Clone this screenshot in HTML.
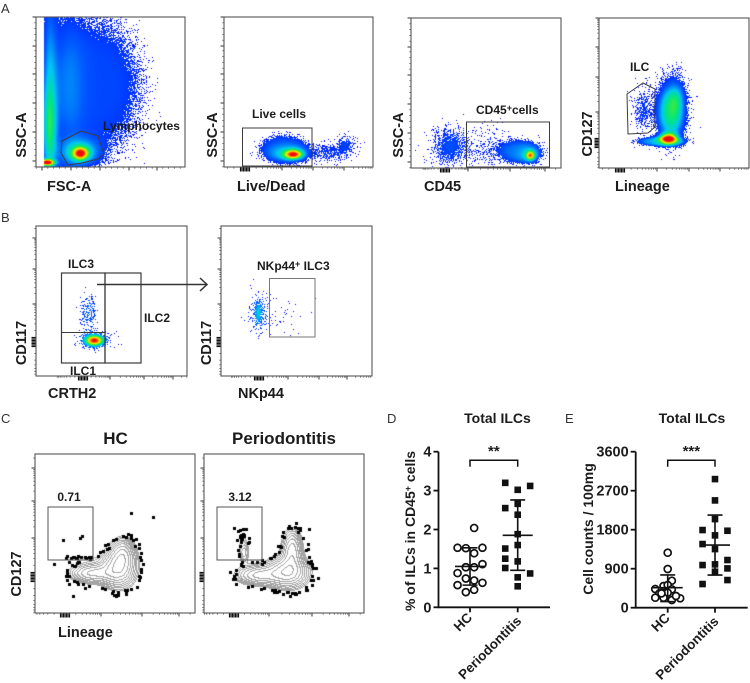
<!DOCTYPE html>
<html lang="en">
<head>
<meta charset="utf-8">
<title>Flow cytometry ILC figure</title>
<style>
html,body{margin:0;padding:0;background:#fff;}
#figure{position:relative;width:750px;height:683px;overflow:hidden;background:#fff;}
canvas{position:absolute;display:block;}
#overlay{position:absolute;left:0;top:0;}
text{font-family:"Liberation Sans",sans-serif;fill:#1c1c1c;}
.lab{font-weight:bold;font-size:14.5px;}
.in{font-weight:bold;font-size:12px;}
.panel{font-size:13px;fill:#333;}
</style>
</head>
<body>
<div id="figure">
<svg id="overlay" width="750" height="683" viewBox="0 0 750 683">
  <g id="ticks"></g>
  <g id="frames"></g>

  <g fill="none" stroke="#3c3c3c" stroke-width="1">
    <path d="M61 153L62 141L81 131L98 136L104 154L98 159L82 163L68 165Z"/>
    <rect x="242.500" y="128" width="69.500" height="38"/>
    <rect x="466.500" y="122" width="83" height="45"/>
    <path d="M627 94L643 83L655 89L655 127L648 133L628 134Z"/>
    <rect x="61.500" y="273" width="43.500" height="90" stroke-width="1.200"/>
    <rect x="105" y="273" width="36" height="90" stroke-width="1.200"/>
    <path d="M61.500 332.500H105"/>
    <rect x="269.500" y="278.500" width="45.500" height="58.500" stroke="#777"/>
    <rect x="48" y="507" width="45" height="53" stroke="#555"/>
    <rect x="217" y="507" width="45" height="53" stroke="#555"/>
  </g>
  <g fill="none" stroke="#333" stroke-width="1.500">
    <path d="M97 284.500H207"/><path d="M200 278L207 284.500L200 291"/>
  </g>

  <text class="panel" x="1" y="13">A</text>
  <text class="panel" x="1" y="222">B</text>
  <text class="panel" x="1" y="423">C</text>
  <text class="panel" x="387" y="423">D</text>
  <text class="panel" x="565" y="423">E</text>

  <text class="lab" x="47" y="191">FSC-A</text>
  <text class="lab" x="237" y="191">Live/Dead</text>
  <text class="lab" x="424" y="191">CD45</text>
  <text class="lab" x="615" y="191">Lineage</text>
  <text class="lab" transform="translate(26 135) rotate(-90)" text-anchor="middle">SSC-A</text>
  <text class="lab" transform="translate(217 135) rotate(-90)" text-anchor="middle">SSC-A</text>
  <text class="lab" transform="translate(403 135) rotate(-90)" text-anchor="middle">SSC-A</text>
  <text class="lab" transform="translate(592 134) rotate(-90)" text-anchor="middle">CD127</text>

  <text class="in" x="103" y="130">Lymphocytes</text>
  <text class="in" x="252" y="118">Live cells</text>
  <text class="in" x="476" y="114">CD45<tspan dy="-3" font-size="9">+</tspan><tspan dy="3">cells</tspan></text>
  <text class="in" x="630" y="71">ILC</text>

  <text class="lab" transform="translate(26 343) rotate(-90)" text-anchor="middle">CD117</text>
  <text class="lab" transform="translate(211 343) rotate(-90)" text-anchor="middle">CD117</text>
  <text class="lab" x="48" y="398">CRTH2</text>
  <text class="lab" x="238" y="398">NKp44</text>
  <text class="in" x="68" y="268">ILC3</text>
  <text class="in" x="144" y="322">ILC2</text>
  <text class="in" x="70" y="375">ILC1</text>
  <text class="in" x="257" y="270">NKp44<tspan dy="-3" font-size="9">+</tspan><tspan dy="3"> ILC3</tspan></text>

  <text x="115.500" y="444" text-anchor="middle" font-weight="bold" font-size="17">HC</text>
  <text x="284" y="444" text-anchor="middle" font-weight="bold" font-size="17">Periodontitis</text>
  <text class="lab" transform="translate(21 574) rotate(-90)" text-anchor="middle">CD127</text>
  <text class="lab" x="58" y="637">Lineage</text>
  <text class="in" x="69" y="501" text-anchor="middle">0.71</text>
  <text class="in" x="240" y="501" text-anchor="middle">3.12</text>

  <text x="497.500" y="423" text-anchor="middle" font-weight="bold" font-size="14">Total ILCs</text>
  <text x="692" y="423" text-anchor="middle" font-weight="bold" font-size="14">Total ILCs</text>
  <text transform="translate(415 531) rotate(-90)" text-anchor="middle" font-weight="bold" font-size="14">% of ILCs in CD45<tspan dy="-4" font-size="9">+</tspan><tspan dy="4"> cells</tspan></text>
  <text transform="translate(593 529) rotate(-90)" text-anchor="middle" font-weight="bold" font-size="14">Cell counts / 100mg</text>
  <g id="chartD"></g>
  <g id="chartE"></g>
</svg>
</div>
<script>
/* ---------- scatter chart data ---------- */
const groups = ['HC', 'Periodontitis'];
const pctTicks = [0, 1, 2, 3, 4];
const countTicks = [0, 900, 1800, 2700, 3600];

const hcPct =      [2.04, 1.53, 1.52, 1.53, 1.39, 1.03, 1.03, 1.11, 0.88, 0.74, 0.69, 0.63, 0.57, 0.39, 0.45, 1.03];
const hcPctSlot =  [0.5, -1.5, -0.5, 1.5, 0.5, -0.5, 0.5, 1.5, -1.5, -0.5, 0.5, 1.5, -1.5, -0.5, 0.5, -0.5];
const perioPct =     [3.2, 3.02, 3.12, 2.66, 2.55, 2.38, 1.88, 1.6, 1.51, 1.25, 1.18, 1.01, 0.87, 0.77, 0.54];
const perioPctSlot = [-1.5, 0, 1.5, 0, -1.5, 0, 0, 0, -1.5, -1.5, 0, -1.5, 1.5, 0, 0];
const pctMean = [1.05, 1.85];
const pctUpper = [1.53, 2.76];
const pctLower = [0.57, 0.95];

const hcCount =      [1269, 893, 623, 501, 524, 431, 424, 346, 332, 231, 231, 178, 217, 270, 330];
const hcCountSlot =  [0, 0, 0.5, -0.5, 0, -1.5, 0.5, 0, -1, -1.5, -0.5, 0.5, 1.5, 1, -0.75];
const perioCount =     [2968, 2476, 2045, 1792, 1776, 1669, 1469, 1353, 984, 1100, 907, 1000, 830, 638, 546];
const perioCountSlot = [0, 0, 0, -1.5, 1.5, 0, -1.5, 0, -1.5, 1.5, 1.5, 0, 0, 1.5, -1.5];
const countMean = [461, 1446];
const countUpper = [755, 2138];
const countLower = [140, 754];

/* ---------- flow populations, in display channels (x right, y up):
   [centre x, centre y, spread x, spread y, density, flatness] ---------- */
const fscPops = [[13,35,5,30,.3],[13,90,5,60,.22],[30,80,12,90,.12],[62,82,38,58,.14,2],[44,14,5,4,.72],[44,15,13,9,.34],[10,5,5,2,.95]];
const livePops = [[69,13,6,3,.75],[59,19,20,12,.16,2],[64,14,14,6,.2],[106,15,14,6,.1],[121,24,6,6,.11]];
const cd45Pops = [[38,22,12,13,.15],[79,20,18,14,.065],[108,17,18,10,.17,2],[118,14,9,7,.16],[119,13,3,3,.62]];
const linPops = [[69,30,6,3.5,.82],[72,58,9,20,.36],[62,27,20,4,.28,2],[71,55,11,20,.13,2],[78,72,5,10,.12],[43,63,6,13,.07],[44,50,8,14,.045]];
const crthPops = [[52,64,6,13,.2],[58,36,6,3.5,.85],[56,36,11,6,.16],[74,36,10,6,.02]];
const nkpPops = [[37,63,6,14,.2],[37,64,2,7,.14],[64,61,16,15,.035]];
const hcPops = [[57,40,13,6,.5],[83,45,10,11,.8],[88,60,7,9,.5],[45,55,12,3,.08]];
const perioPops = [[54,38,13,6,.5],[83,41,12,9,.8],[88,63,6,12,.55],[40,60,3,6,.2],[39,73,5,13,.085]];
const hcEvents = [[118,96],[96,100],[28,73],[45,75],[47,77],[19,49],[38,17]];
const perioEvents = [[92,90],[30,85],[105,84]];

/* ---------- axis ticks for flow plots, in display channels ---------- */
const linTicksA = [6,35,64,93,121,150];
const xLogLive = [21,58,89,120];
const xLogCd45 = [34,57,99,134];
const xLogLin = [21,58,90,121];
const yLogLin = [25,56,91,121,150];
const xLogCrth = [47,74,108,137];
const yLogB = [34,72,107,138];
const xLogNkp = [38,67,98,126];
const yLogC = [36,75,112,145];
const xLogHc = [30,66,107,144];
const xLogPerio = [30,65,108,145];

const NS = 'http://www.w3.org/2000/svg';
function svgEl(tag, attrs, parent){
  const el = document.createElementNS(NS, tag);
  for (const k in attrs) el.setAttribute(k, attrs[k]);
  parent.appendChild(el);
  return el;
}

/* ---------- flow density rendering ---------- */
const stops = [[0,0,0,255],[.18,0,90,255],[.32,0,200,240],[.45,0,230,130],[.58,90,235,30],[.72,250,240,0],[.86,255,130,0],[1,240,10,10]];
function jet(t){
  t = Math.min(1, t);
  for (let i = 1; i < stops.length; i++){
    if (t <= stops[i][0]){
      const a = stops[i-1], b = stops[i], f = (t-a[0])/(b[0]-a[0]);
      return [a[1]+(b[1]-a[1])*f, a[2]+(b[2]-a[2])*f, a[3]+(b[3]-a[3])*f];
    }
  }
  return stops[stops.length-1].slice(1);
}
function dither(x, y){
  const s = Math.sin(x*12.9898 + y*78.233) * 43758.5453;
  return s - Math.floor(s);
}
function density(pops, x, y){
  let sum = 0;
  for (const p of pops){
    const u = (x-p[0])/p[2], v = (y-p[1])/p[3];
    sum += p[4]*Math.exp(-0.5*Math.pow(u*u+v*v, p[5]||1));
  }
  return sum;
}
function makeCanvas(box, name){
  const c = document.createElement('canvas');
  c.width = box.w; c.height = box.h;
  c.style.left = box.x + 'px'; c.style.top = box.y + 'px';
  
  
  document.getElementById('figure').insertBefore(c, document.getElementById('overlay'));
  return c;
}
function drawPseudocolor(box, pops, solid, xMin, name){
  const c = makeCanvas(box, name), g = c.getContext('2d');
  const img = g.createImageData(box.w, box.h);
  for (let py = 0; py < box.h; py++){
    for (let px = 0; px < box.w; px++){
      const cx = px, cy = box.h - py;
      const d = density(pops, cx, cy);
      const i = (py*box.w + px)*4;
      let col = [255,255,255];
      if (cx >= xMin && (d >= solid || dither(px+box.x, py+box.y) < Math.pow(d/solid, 1.6))) col = jet(d);
      img.data[i] = col[0]; img.data[i+1] = col[1]; img.data[i+2] = col[2]; img.data[i+3] = 255;
    }
  }
  g.putImageData(img, 0, 0);
}
function drawContour(box, pops, events, name){
  const c = makeCanvas(box, name), g = c.getContext('2d');
  g.fillStyle = '#fff'; g.fillRect(0, 0, box.w, box.h);
  const edge = .09, low = .02;
  const lev = d => d < edge ? -1 : Math.floor(Math.log(d/edge)*3.6);
  g.fillStyle = '#a4a4a4';
  for (let py = 0; py < box.h; py++){
    for (let px = 0; px < box.w; px++){
      const a = lev(density(pops, px, box.h-py));
      const b = lev(density(pops, px+1, box.h-py));
      const e = lev(density(pops, px, box.h-py-1));
      if (a !== b || a !== e) g.fillRect(px, py, 1, 1);
    }
  }
  g.fillStyle = '#000';
  for (let py = 0; py < box.h; py += 2){
    for (let px = 0; px < box.w; px += 2){
      const d = density(pops, px, box.h-py);
      if (d > low && d < edge && dither(px+box.x, py+box.y) < Math.pow((d-low)/(edge-low), 1.3)*.6){
        g.fillRect(Math.round(px + dither(py, px)*3 - 1.5), Math.round(py + dither(px+3, py)*3 - 1.5), 3, 3);
      }
    }
  }
  for (const ev of events) g.fillRect(Math.round(ev[0])-1, Math.round(box.h-ev[1])-1, 3, 3);
}

/* ---------- flow axes ---------- */
function tickLine(parent, x1, y1, x2, y2, w, col){
  const t = svgEl('line', {x1:x1, y1:y1, x2:x2, y2:y2, stroke:col, 'stroke-width':w}, parent);
  
  
}
function channelMarks(ticks, kind, max){
  const out = [];
  if (kind === 'lin'){
    const gap = ticks[1]-ticks[0];
    for (let i = -1; i < ticks.length; i++){
      const base = i < 0 ? ticks[0]-gap : ticks[i];
      if (i >= 0) out.push([base, 1]);
      for (let m = 1; m < 5; m++) out.push([base+gap*m/5, 0]);
    }
  } else {
    for (let s = -3; s <= 3; s++) out.push([ticks[0]+s*1.5, 2]);
    for (let i = 1; i < ticks.length; i++) out.push([ticks[i], 1]);
    for (let i = 0; i < ticks.length; i++){
      const gap = i+1 < ticks.length ? ticks[i+1]-ticks[i] : ticks[i]-ticks[i-1];
      for (let m = 2; m < 10; m++) out.push([ticks[i]+gap*Math.log10(m), 0]);
      if (i === 0) for (let m = 2; m < 10; m++) out.push([ticks[0]-gap*Math.log10(m), 0]);
    }
  }
  return out.filter(t => t[0] >= 0 && t[0] <= max);
}
const tickLen = [1.8, 3.5, 4.5];
const tickWidth = [.7, 1, 1.2];
const tickCol = ['#555', '#333', '#111'];
function drawFrame(box, xTicks, xKind, yTicks, yKind){
  const gt = document.getElementById('ticks');
  for (const t of channelMarks(xTicks, xKind, box.w)){
    const px = box.x + t[0];
    tickLine(gt, px, box.y+box.h, px, box.y+box.h+tickLen[t[1]], tickWidth[t[1]], tickCol[t[1]]);
  }
  for (const t of channelMarks(yTicks, yKind, box.h)){
    const py = box.y + box.h - t[0];
    tickLine(gt, box.x, py, box.x-tickLen[t[1]], py, tickWidth[t[1]], tickCol[t[1]]);
  }
  const f = svgEl('rect', {x:box.x, y:box.y, width:box.w, height:box.h, fill:'none', stroke:'#555', 'stroke-width':1.1}, document.getElementById('frames'));
  
  
}

const boxFsc = {x:36, y:17, w:149, h:150};
const boxLive = {x:224, y:17, w:149, h:150};
const boxCd45 = {x:411, y:18, w:150, h:150};
const boxLin = {x:599, y:18, w:150, h:150};
const boxCrth = {x:36, y:226, w:151, h:150};
const boxNkp = {x:221, y:226, w:151, h:150};
const boxHc = {x:35, y:454, w:160, h:159};
const boxPerio = {x:204, y:454, w:160, h:159};

drawPseudocolor(boxFsc, fscPops, .12, 8, 'fsc-ssc-density');
drawPseudocolor(boxLive, livePops, .12, 0, 'live-dead-density');
drawPseudocolor(boxCd45, cd45Pops, .14, 0, 'cd45-density');
drawPseudocolor(boxLin, linPops, .12, 0, 'lineage-cd127-density');
drawPseudocolor(boxCrth, crthPops, .28, 0, 'crth2-cd117-density');
drawPseudocolor(boxNkp, nkpPops, .28, 0, 'nkp44-cd117-density');
drawContour(boxHc, hcPops, hcEvents, 'hc-contour-plot');
drawContour(boxPerio, perioPops, perioEvents, 'periodontitis-contour-plot');

drawFrame(boxFsc, linTicksA, 'lin', linTicksA, 'lin');
drawFrame(boxLive, xLogLive, 'log', linTicksA, 'lin');
drawFrame(boxCd45, xLogCd45, 'log', linTicksA, 'lin');
drawFrame(boxLin, xLogLin, 'log', yLogLin, 'log');
drawFrame(boxCrth, xLogCrth, 'log', yLogB, 'log');
drawFrame(boxNkp, xLogNkp, 'log', yLogB, 'log');
drawFrame(boxHc, xLogHc, 'log', yLogC, 'log');
drawFrame(boxPerio, xLogPerio, 'log', yLogC, 'log');

/* ---------- scatter charts ---------- */
function drawScatter(root, cfg){
  const y = v => cfg.bottom - (v-cfg.min)/(cfg.max-cfg.min)*(cfg.bottom-cfg.top);
  const SLOT = 8.3;
  const ink = '#111';
  const ax = svgEl('path', {d:`M${cfg.left} ${cfg.top}V${cfg.bottom}H${cfg.right}`, fill:'none', stroke:ink, 'stroke-width':1.8}, root);
  
  
  cfg.ticks.forEach(v => {
    const t = svgEl('line', {x1:cfg.left-5, x2:cfg.left, y1:y(v), y2:y(v), stroke:ink, 'stroke-width':1.8}, root);
    
    
    const l = svgEl('text', {x:cfg.left-7, y:y(v)+5, 'text-anchor':'end', 'font-weight':'bold', 'font-size':14.5}, root);
    
    
    l.textContent = v;
  });
  cfg.centers.forEach((cx, i) => {
    const t = svgEl('line', {x1:cx, x2:cx, y1:cfg.bottom, y2:cfg.bottom+5, stroke:ink, 'stroke-width':1.8}, root);
    
    
    const ex = cx + (i ? 4.500 : 3), ey = cfg.bottom + (i ? 14.500 : 11);
    const l = svgEl('text', {transform:`translate(${ex} ${ey}) rotate(-45)`, 'text-anchor':'end', 'font-weight':'bold', 'font-size':13.5}, root);
    
    
    l.textContent = groups[i];
  });
  // open circles for the first group
  cfg.values[0].forEach((v, i) => {
    const c = svgEl('circle', {cx:cfg.centers[0]+cfg.slots[0][i]*SLOT, cy:y(v), r:3.5, fill:'#fff', stroke:ink, 'stroke-width':1.7}, root);
    
    
  });
  // filled squares for the second group
  cfg.values[1].forEach((v, i) => {
    const s = svgEl('rect', {x:cfg.centers[1]+cfg.slots[1][i]*SLOT-3.3, y:y(v)-3.3, width:6.6, height:6.6, fill:ink}, root);
    
    
  });
  cfg.centers.forEach((cx, i) => {
    const e = svgEl('path', {
      d:`M${cx} ${y(cfg.upper[i])}V${y(cfg.lower[i])}M${cx-7.500} ${y(cfg.upper[i])}H${cx+7.500}M${cx-7.500} ${y(cfg.lower[i])}H${cx+7.500}M${cx-15} ${y(cfg.mean[i])}H${cx+15}`,
      fill:'none', stroke:ink, 'stroke-width':1.6}, root);
    
    
  });
  const b = svgEl('path', {d:`M${cfg.centers[0]} ${cfg.top+15}V${cfg.top+8.500}H${cfg.centers[1]}V${cfg.top+15}`, fill:'none', stroke:ink, 'stroke-width':1.5}, root);
  
  
  const st = svgEl('text', {x:(cfg.centers[0]+cfg.centers[1])/2, y:cfg.top+4.500, 'text-anchor':'middle', 'font-weight':'bold', 'font-size':15}, root);
  
  
  st.textContent = cfg.stars;
}

drawScatter(document.getElementById('chartD'), {
  left:438.5, right:550, top:451.7, bottom:607.3, min:0, max:4,
  centers:[470, 517.7], ticks:pctTicks, values:[hcPct, perioPct], slots:[hcPctSlot, perioPctSlot],
  mean:pctMean, upper:pctUpper, lower:pctLower, stars:'**'
});
drawScatter(document.getElementById('chartE'), {
  left:635.7, right:747.7, top:451.7, bottom:607.7, min:0, max:3600,
  centers:[667.7, 715], ticks:countTicks, values:[hcCount, perioCount], slots:[hcCountSlot, perioCountSlot],
  mean:countMean, upper:countUpper, lower:countLower, stars:'***'
});
</script>
</body>
</html>
